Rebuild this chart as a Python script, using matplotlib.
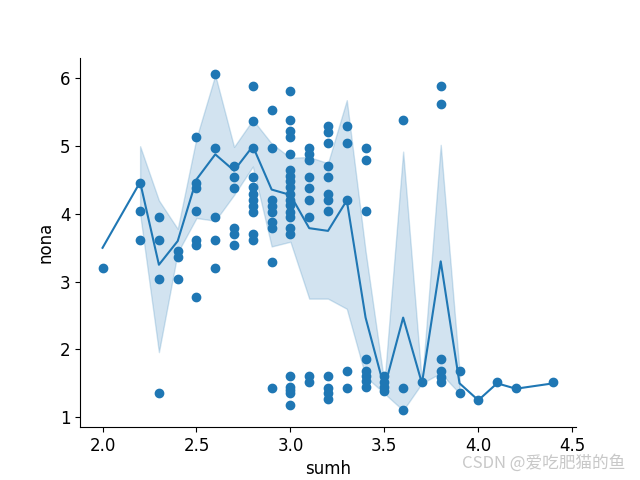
import numpy as np
import matplotlib.pyplot as plt

plt.rcParams['font.family'] = ['DejaVu Sans', 'Noto Sans CJK SC']
plt.rcParams['font.size'] = 12

nan = np.nan

# line: mean of nona per sumh, with 95% band (no band where only one sample)
line_x = [2.0, 2.2, 2.3, 2.4, 2.5, 2.6, 2.7, 2.8, 2.9, 3.0, 3.1, 3.2,
          3.3, 3.4, 3.5, 3.6, 3.7, 3.8, 3.9, 4.0, 4.1, 4.2, 4.4]
line_mean = [3.5, 4.47, 3.25, 3.6, 4.51, 4.88, 4.64, 5.0, 4.36, 4.28, 3.79, 3.75,
             4.2, 2.47, 1.43, 2.47, 1.5, 3.3, 1.5, 1.25, 1.5, 1.42, 1.5]
line_lo = [nan, 4.0, 1.96, 3.43, 3.94, 3.9, 4.28, 4.7, 3.52, 3.59, 2.75, 2.75,
           2.6, 1.6, 1.35, 1.1, 1.5, 1.65, 1.35, nan, nan, nan, nan]
line_hi = [nan, 5.0, 4.2, 3.78, 5.12, 6.05, 4.99, 5.39, 5.04, 4.83, 4.84, 4.75,
           5.68, 3.45, 1.5, 4.92, 1.5, 5.02, 1.68, nan, nan, nan, nan]

# scatter points, grouped by sumh value
points = {
    2.0: [3.20],
    2.2: [4.45, 4.04, 3.61],
    2.3: [3.95, 3.61, 3.04, 1.35],
    2.4: [3.46, 3.36, 3.04],
    2.5: [5.14, 4.46, 4.38, 4.04, 3.61, 3.54, 2.77],
    2.6: [6.06, 4.97, 3.95, 3.61, 3.20],
    2.7: [4.71, 4.54, 4.38, 3.79, 3.70, 3.54],
    2.8: [5.89, 5.37, 4.97, 4.54, 4.40, 4.30, 4.20, 4.11, 4.03, 3.70, 3.61],
    2.9: [5.54, 4.97, 4.20, 4.11, 4.03, 3.88, 3.79, 3.29, 1.43],
    3.0: [5.81, 5.38, 5.22, 5.13, 4.88, 4.65, 4.56, 4.48, 4.40, 4.30, 4.20,
          4.13, 4.03, 3.96, 3.79, 3.70, 1.61, 1.45, 1.40, 1.35, 1.18],
    3.1: [4.97, 4.88, 4.80, 4.54, 4.39, 4.20, 3.95, 1.61, 1.52],
    3.2: [5.30, 5.21, 5.04, 4.71, 4.54, 4.30, 4.20, 4.04, 1.61, 1.43, 1.35, 1.27],
    3.3: [5.30, 5.04, 4.20, 1.68, 1.43],
    3.4: [4.97, 4.80, 4.04, 1.86, 1.68, 1.61, 1.53, 1.45],
    3.5: [1.61, 1.52, 1.45, 1.38],
    3.6: [5.38, 1.43, 1.11],
    3.7: [1.52],
    3.8: [5.89, 5.63, 1.86, 1.68, 1.60, 1.52],
    3.9: [1.68, 1.35],
    4.0: [1.26],
    4.1: [1.52],
    4.2: [1.43],
    4.4: [1.52],
}
sumh = [k for k, v in points.items() for _ in v]
nona = [y for v in points.values() for y in v]

fig, ax = plt.subplots(figsize=(6.4, 4.8), dpi=100)
ax.fill_between(line_x, line_lo, line_hi, color='C0', alpha=0.2)
ax.plot(line_x, line_mean, color='C0')
ax.scatter(sumh, nona, color='C0')

ax.set_xlabel('sumh')
ax.set_ylabel('nona')
ax.spines['top'].set_visible(False)
ax.spines['right'].set_visible(False)

fig.text(0.977, 0.017, 'CSDN @爱吃肥猫的鱼', ha='right', va='bottom',
         fontsize=12, color='#c8c8c8', family=['Noto Sans CJK SC', 'DejaVu Sans'])

fig.savefig('out.png')
